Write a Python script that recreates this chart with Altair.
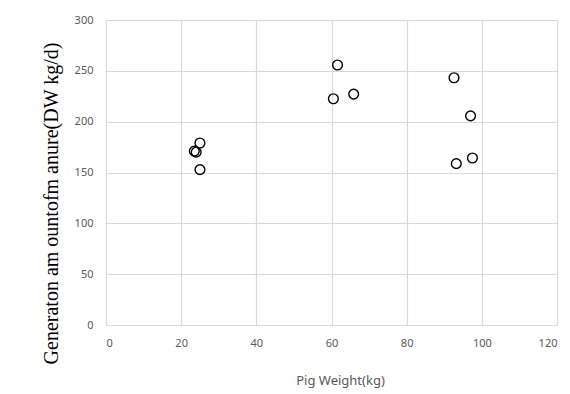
import altair as alt
import pandas as pd

weight = [23.5, 24.0, 25.0, 25.0, 61.6, 60.5, 65.9, 92.6, 97.0, 93.2, 97.5]
manure = [171.0, 170.0, 179.0, 152.8, 255.7, 222.5, 227.1, 243.2, 205.7, 158.7, 164.3]

df = pd.DataFrame({"w": weight, "m": manure})

chart = alt.Chart(df).mark_point(
    shape="circle", filled=False, color="black", size=95, strokeWidth=1.4, opacity=1
).encode(
    x=alt.X("w:Q", scale=alt.Scale(domain=[0, 120], nice=False),
            axis=alt.Axis(values=[0, 20, 40, 60, 80, 100, 120], title="Pig Weight(kg)",
                          titleFont="Noto Sans", titleFontWeight="normal", titleFontSize=13,
                          titleColor="#595959", titlePadding=26, titleX=234,
                          labelFont="Noto Sans", labelFontSize=11, labelColor="#595959",
                          labelPadding=12, domain=False, ticks=False,
                          gridColor="#d9d9d9", gridWidth=1.2)),
    y=alt.Y("m:Q", scale=alt.Scale(domain=[0, 300], nice=False),
            axis=alt.Axis(values=[0, 50, 100, 150, 200, 250, 300],
                          title="Generaton am ountofm anure(DW kg/d)",
                          titleFont="Liberation Serif", titleFontWeight="normal", titleFontSize=20,
                          titleColor="black", titleY=183, titleX=-45, titleAlign="center",
                          titleAngle=270,
                          labelFont="Noto Sans", labelFontSize=11, labelColor="#595959",
                          labelPadding=13, domain=False, ticks=False,
                          gridColor="#d9d9d9", gridWidth=1.2)),
).properties(
    width=451, height=305,
    autosize=alt.AutoSizeParams(type="none"),
    padding={"left": 98, "top": 12, "right": 5, "bottom": 66},
).configure_view(stroke=None)

chart.save("out.html", embed_options={"renderer": "svg", "actions": False})
